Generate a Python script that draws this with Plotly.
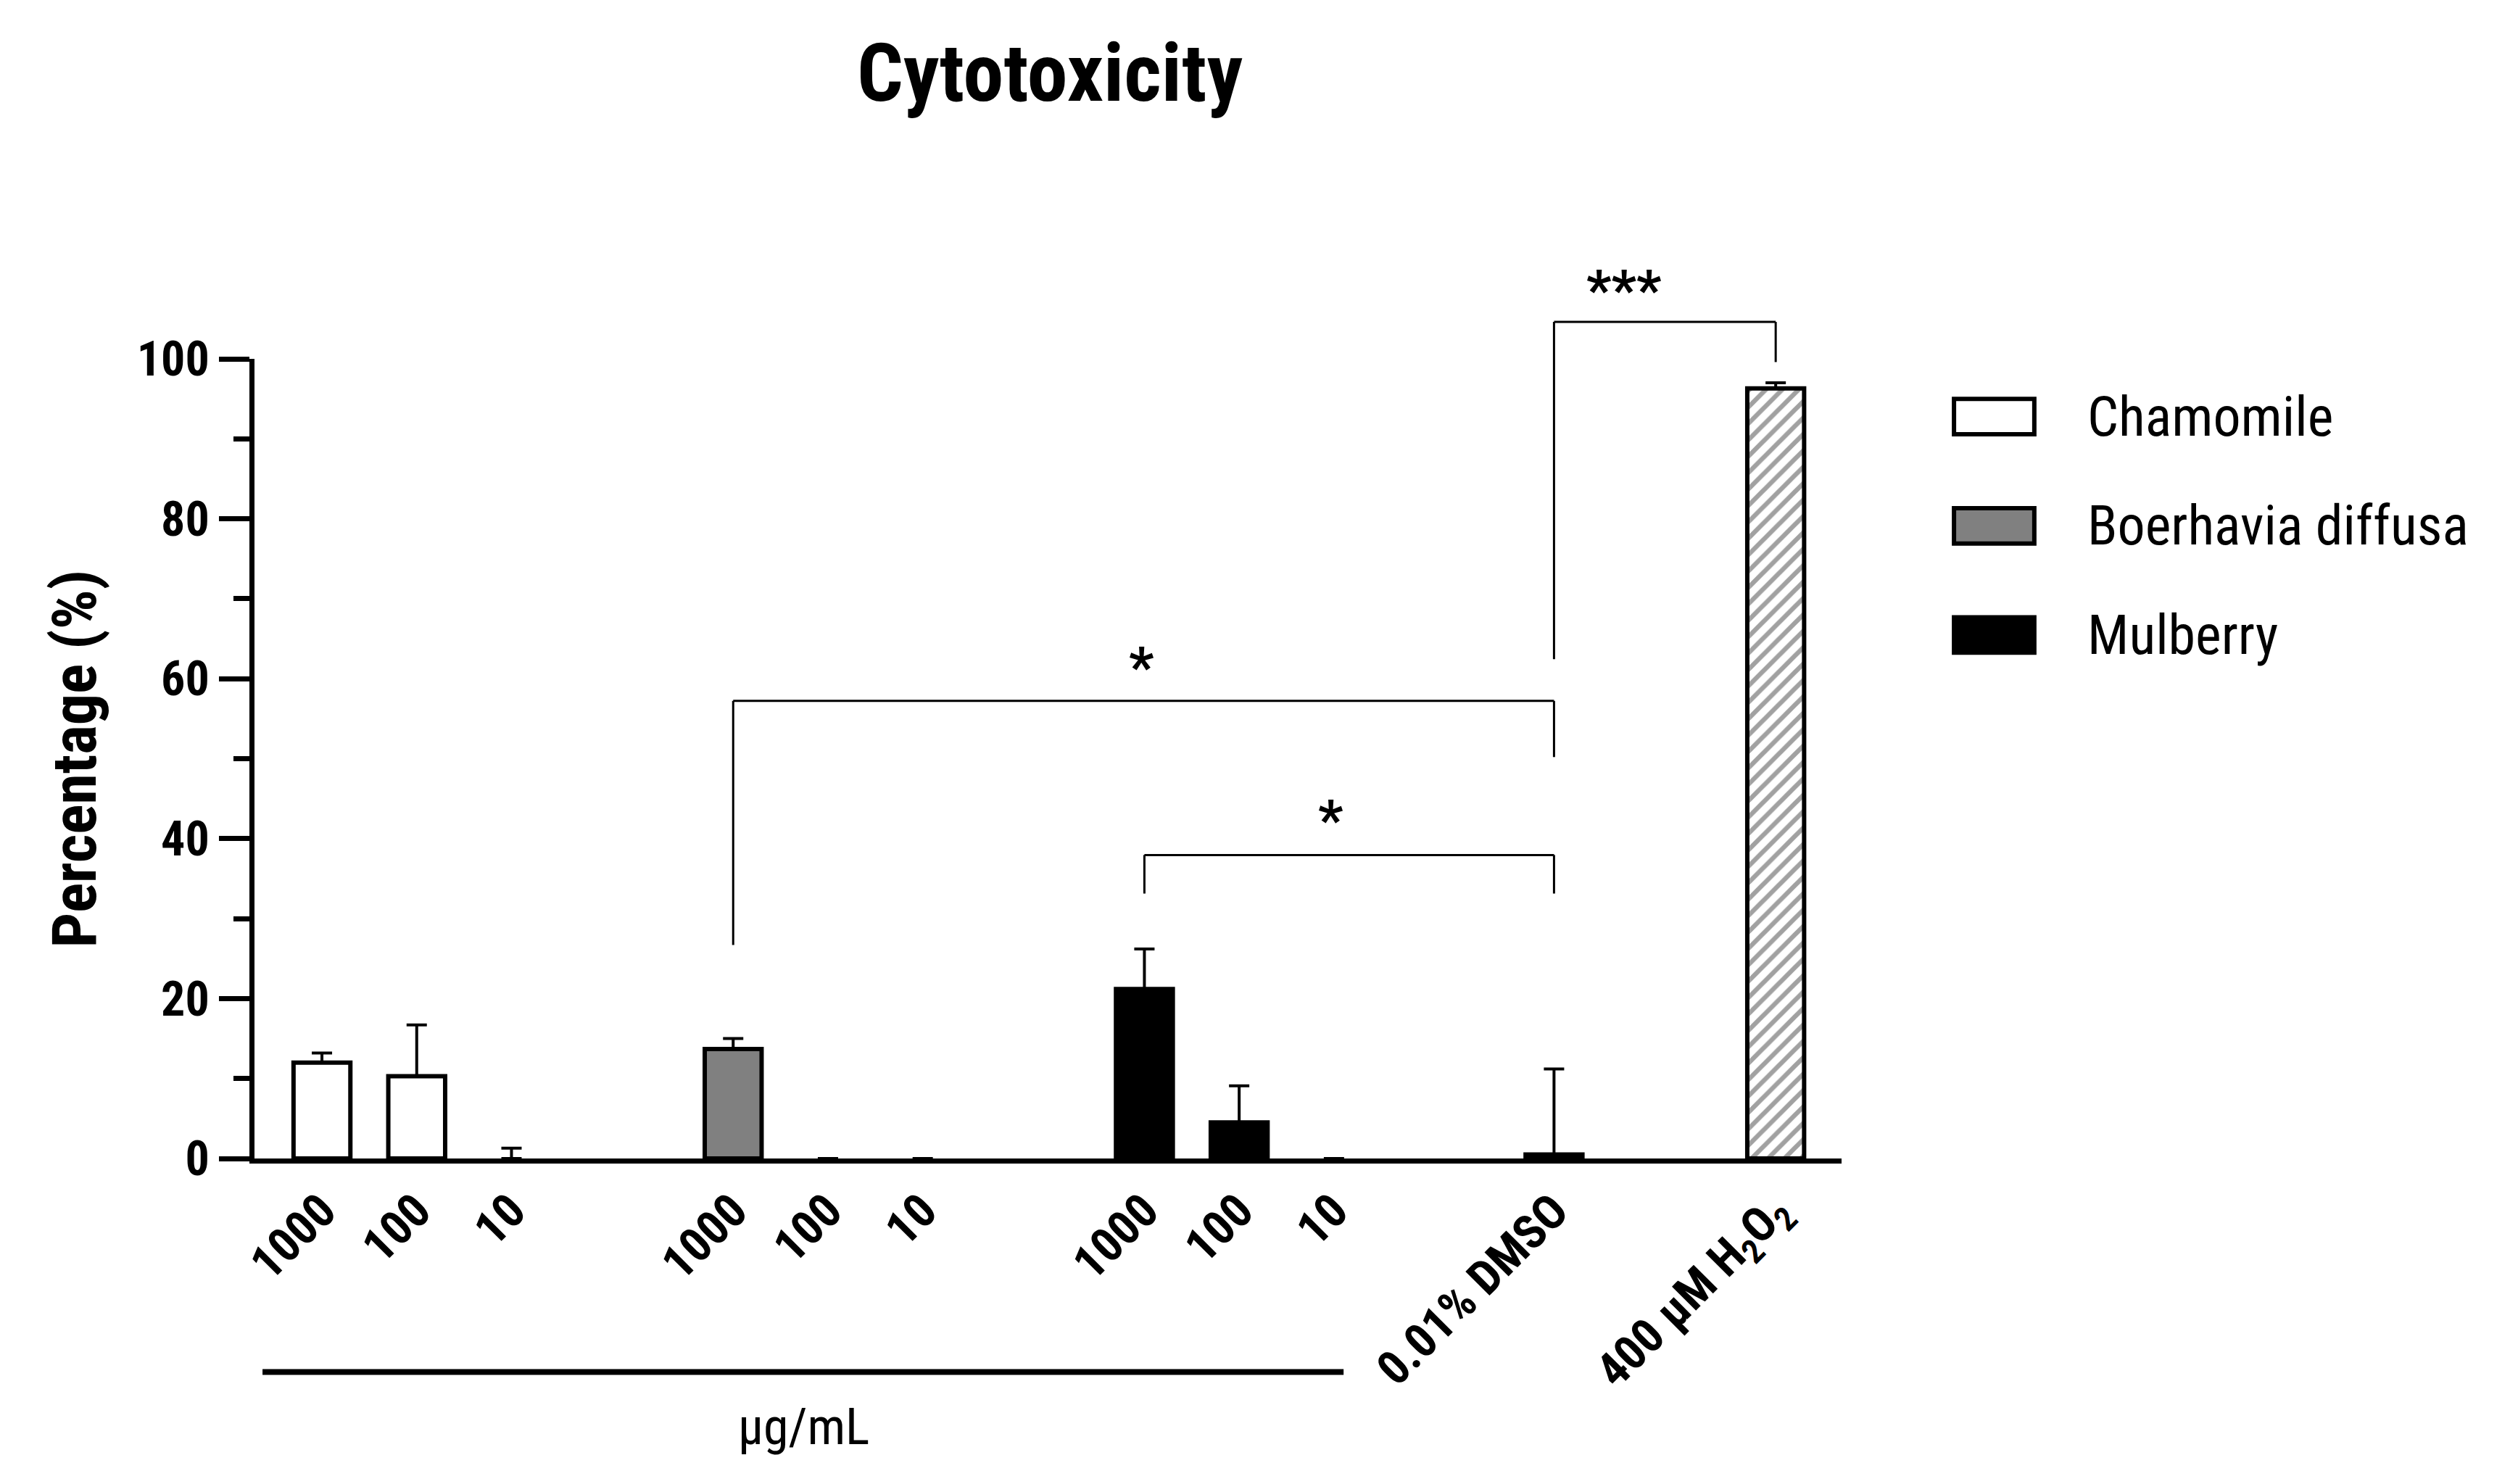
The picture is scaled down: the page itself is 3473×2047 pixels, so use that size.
import plotly.graph_objects as go

groups = ["Chamomile"]*3 + ["Boerhavia diffusa"]*3 + ["Mulberry"]*3 + ["DMSO", "H2O2"]
tick_labels = ["1000", "100", "10", "1000", "100", "10", "1000", "100", "10",
               "0.01% DMSO", "400 µM H<sub>2</sub>O<sub>2</sub>"]
values = [12.0, 10.3, 0.0, 13.7, 0.0, 0.0, 21.2, 4.5, 0.0, 0.5, 96.3]
errors = [1.2, 6.4, 1.3, 1.3, 0.0, 0.0, 5.0, 4.6, 0.0, 10.7, 0.7]
legend_names = ["Chamomile", "Boerhavia diffusa", "Mulberry"]
legend_colors = ["white", "#808080", "black"]

W, H = 3473, 2047
S = W / 1568.0
xpos = [(p - 197) / 59 for p in [197, 256, 315, 453, 512, 571, 709, 768, 827, 964, 1102]]
L, R, T, B = 155 * S, 1143 * S, 220 * S, 718 * S

colors = {"Chamomile": "white", "Boerhavia diffusa": "#808080", "Mulberry": "black",
          "DMSO": "white", "H2O2": "white"}
FONT = "Liberation Sans Narrow, Arial Narrow, Roboto Condensed, Roboto, Liberation Sans"

fig = go.Figure()
fig.add_trace(go.Bar(
    x=xpos, y=values, width=0.6,
    marker=dict(color=[colors[g] for g in groups],
                line=dict(color="black", width=[0 if v == 0 else 6 for v in values]),
                pattern=dict(shape=[""]*10 + ["/"], fgcolor="black", bgcolor="white",
                             size=16, solidity=0.4)),
    error_y=dict(type="data", array=errors, arrayminus=[0]*11, symmetric=False,
                 color="black", thickness=4, width=14),
    showlegend=False))

def px(xd):
    return (xd * S - L) / (R - L)

def py(yd):
    return (B - yd * S) / (B - T)

shapes = []
def line(x0, y0, x1, y1, w=3):
    shapes.append(dict(type="line", xref="paper", yref="paper", x0=px(x0), y0=py(y0),
                       x1=px(x1), y1=py(y1), line=dict(color="black", width=w)))

line(453, 585, 453, 433); line(453, 433, 964, 433); line(964, 433, 964, 468)
line(709, 553, 709, 529); line(709, 529, 964, 529); line(964, 529, 964, 553)
line(964, 407, 964, 197); line(964, 197, 1102, 197); line(1102, 197, 1102, 222)
line(160, 851, 833, 851, w=8)

ann = []
def text(x, y, t, size, **kw):
    a = dict(xref="paper", yref="paper", x=px(x), y=py(y), text=t, showarrow=False,
             yanchor="middle", font=dict(size=size, color="black", family=FONT))
    a.update(kw)
    ann.append(a)

text(707, 412, "<b>*</b>", 76)
text(834, 507, "<b>*</b>", 76)
text(1032, 177, "<b>***</b>", 76)
text(497, 885, "µg/mL", 70)
text(650, 42, "<b>Cytotoxicity</b>", 112)

for i, (n, c) in enumerate(zip(legend_names, legend_colors)):
    yc = 256 + i * 68
    shapes.append(dict(type="rect", xref="paper", yref="paper", x0=px(1213), x1=px(1263),
                       y0=py(yc - 11), y1=py(yc + 11), fillcolor=c,
                       line=dict(color="black", width=6)))
    text(1295, yc, n, 76, xanchor="left")

fig.update_layout(
    width=W, height=H, plot_bgcolor="white", paper_bgcolor="white",
    margin=dict(l=L, r=W - R, t=T, b=H - B),
    font=dict(family=FONT, color="black"),
    shapes=shapes, annotations=ann,
    xaxis=dict(range=[(155 - 197) / 59, (1143 - 197) / 59], tickvals=xpos, ticktext=tick_labels,
               tickangle=-45, tickfont=dict(size=66, family=FONT, weight="bold"),
               showline=True, linecolor="black", linewidth=7, showgrid=False, zeroline=False,
               ticks="", ticklen=0),
    yaxis=dict(range=[0, 100], tickvals=[0, 20, 40, 60, 80, 100],
               tickfont=dict(size=66, family=FONT, weight="bold"),
               showline=True, linecolor="black", linewidth=7, showgrid=False, zeroline=False,
               ticks="outside", ticklen=42, tickwidth=7, tickcolor="black",
               minor=dict(tickvals=[10, 30, 50, 70, 90], ticks="outside", ticklen=22,
                          tickwidth=7, tickcolor="black"),
               title=dict(text="<b>Percentage (%)</b>", font=dict(size=86, family=FONT),
                          standoff=30)),
)
fig.write_html("out.html")
